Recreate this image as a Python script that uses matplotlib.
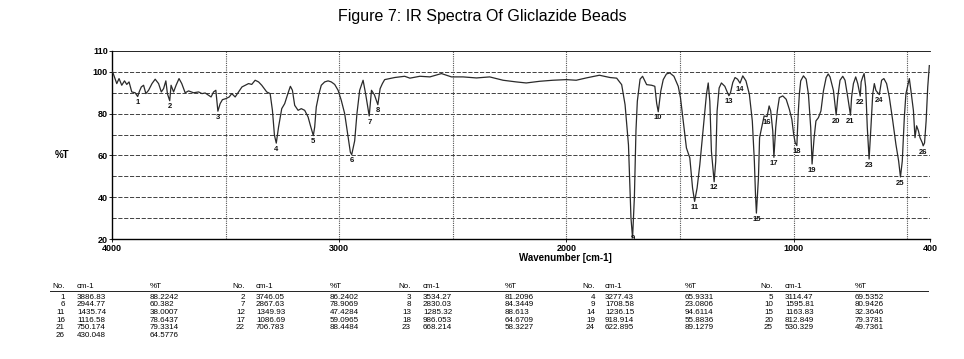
import numpy as np
import matplotlib
matplotlib.use("Agg")
from matplotlib import pyplot as plt

# spectrum (wavenumber cm-1, %T)
wavenumber = [4000, 3994, 3979, 3969, 3957, 3945, 3935, 3925, 3913, 3898, 3887, 3880,
              3871, 3861, 3851, 3839, 3824, 3810, 3795, 3783, 3773, 3763, 3756, 3746,
              3740, 3729, 3718, 3705, 3693, 3678, 3663, 3641, 3619, 3604, 3590, 3575,
              3564, 3553, 3543, 3534, 3524, 3514, 3499, 3484, 3473, 3458, 3443, 3428,
              3414, 3399, 3385, 3370, 3355, 3341, 3319, 3304, 3294, 3285, 3277, 3267,
              3253, 3240, 3226, 3215, 3206, 3196, 3181, 3167, 3152, 3137, 3127, 3114,
              3108, 3101, 3089, 3079, 3064, 3049, 3035, 3020, 3005, 2991, 2976, 2961,
              2951, 2945, 2932, 2922, 2910, 2895, 2884, 2868, 2858, 2845, 2830, 2820,
              2810, 2800, 2778, 2756, 2733, 2712, 2689, 2645, 2601, 2550, 2506, 2455,
              2396, 2338, 2279, 2221, 2177, 2118, 2060, 2001, 1957, 1913, 1855, 1808,
              1779, 1757, 1742, 1727, 1716, 1709, 1701, 1694, 1688, 1676, 1665, 1647,
              1625, 1611, 1603, 1596, 1585, 1574, 1560, 1545, 1527, 1508, 1498, 1486,
              1472, 1457, 1445, 1436, 1425, 1413, 1398, 1384, 1376, 1369, 1362, 1350,
              1343, 1337, 1328, 1318, 1303, 1293, 1285, 1278, 1268, 1258, 1247, 1236,
              1224, 1210, 1195, 1182, 1173, 1168, 1164, 1155, 1150, 1141, 1130, 1117,
              1108, 1101, 1092, 1087, 1079, 1072, 1063, 1048, 1033, 1019, 1008, 1000,
              993, 986, 980, 975, 969, 957, 945, 935, 925, 919, 910, 902,
              891, 880, 869, 857, 848, 840, 825, 813, 806, 796, 784, 774,
              762, 750, 745, 737, 727, 718, 707, 703, 696, 690, 683, 676,
              668, 660, 652, 645, 638, 623, 618, 613, 603, 591, 579, 564,
              550, 538, 530, 522, 513, 506, 498, 491, 484, 473, 466, 459,
              451, 444, 434, 430, 424, 417, 410, 403]
transmittance = [100.5, 99, 94.4, 96.8, 93.6, 95.7, 94, 95.2, 90.4, 90, 88.2, 90.5,
                 92.8, 93.6, 89.6, 91.2, 94.4, 96.5, 94.4, 90.4, 92, 95.7, 89.5, 86.2,
                 93.6, 90.4, 93.6, 96.8, 94.4, 90, 90.9, 90, 90.4, 89.6, 89.9, 88.8,
                 88, 90.4, 91.2, 81.2, 84.8, 86.7, 87.2, 88, 89.6, 88, 90.4, 92.8,
                 93.6, 94.4, 94, 96, 95.2, 93.6, 90.4, 89.6, 81.6, 69.6, 65.9, 73.6,
                 82.4, 84.8, 89.6, 93.1, 91.2, 84, 81.6, 82.4, 81.6, 78.4, 74.4, 69.5,
                 73.6, 83.2, 89.6, 93.6, 95.2, 95.7, 95.2, 94, 91.2, 86.4, 80, 68.8,
                 61.5, 60.4, 67, 80, 91.2, 96, 89.6, 78.9, 91.2, 89, 84.3, 92,
                 94.4, 96.3, 96.8, 97.3, 97.6, 97.9, 97, 97.9, 97.6, 99.2, 97.6, 97.6,
                 97.1, 97.6, 96, 95.2, 94.7, 95.5, 96, 96.3, 96, 97.1, 98.4, 97.3,
                 97, 93.9, 84.3, 65, 30, 20.5, 40, 72, 86, 96.5, 97.9, 93.9,
                 93.6, 93.1, 85, 80.9, 90.7, 96.3, 99, 99.5, 97.9, 93.1, 87.5, 76.4,
                 63.6, 58.8, 44.4, 38.0, 44.4, 55.6, 73.2, 89.1, 94.7, 85.9, 62, 47.4,
                 57.2, 81.2, 92.3, 94.7, 93.1, 90.5, 88.6, 90, 94.9, 97.3, 96.5, 94.6,
                 98.1, 95.7, 89.3, 76.5, 57.3, 41.3, 32.4, 49.3, 68.5, 73.3, 78.9, 78.6,
                 83.7, 81.3, 71.7, 59.1, 73.3, 81.3, 87.7, 88.5, 86.9, 82.1, 77.3, 70.1,
                 66, 64.7, 80, 89.3, 95.7, 98.1, 96.5, 89.3, 73.3, 55.9, 68.5, 76.5,
                 78.1, 81.3, 90.9, 97.3, 99, 97.6, 91.1, 79.4, 87.9, 96, 97.9, 96,
                 87.9, 79.3, 87.9, 94.4, 97.6, 94.4, 88.4, 95.2, 97.6, 99.2, 92.7, 73.4,
                 58.3, 73.4, 89.5, 94.4, 91.1, 89.1, 92.7, 96, 96.8, 94.4, 87.9, 76.6,
                 65.3, 57.3, 49.7, 57.3, 78.2, 89.5, 93.5, 96.8, 91.1, 81.5, 68.5, 74.2,
                 71.8, 68.5, 66.1, 64.6, 66, 76.6, 92.7, 103]

# peak table printed under the spectrum
peak_no = list(range(1, 27))
peak_cm = ["3886.83", "3746.05", "3534.27", "3277.43", "3114.47",
           "2944.77", "2867.63", "2830.03", "1708.58", "1595.81",
           "1435.74", "1349.93", "1285.32", "1236.15", "1163.83",
           "1116.58", "1086.69", "986.053", "918.914", "812.849",
           "750.174", "706.783", "668.214", "622.895", "530.329",
           "430.048"]
peak_t = ["88.2242", "86.2402", "81.2096", "65.9331", "69.5352",
          "60.382", "78.9069", "84.3449", "23.0806", "80.9426",
          "38.0007", "47.4284", "88.613", "94.6114", "32.3646",
          "78.6437", "59.0965", "64.6709", "55.8836", "79.3781",
          "79.3314", "88.4484", "58.3227", "89.1279", "49.7361",
          "64.5776"]

x_ticks = [4000, 3000, 2000, 1000, 400]
y_ticks = [20, 40, 60, 80, 100, 110]

W, H = 964, 359
fig = plt.figure(figsize=(W / 100, H / 100), dpi=100)
fnt = "Liberation Sans"

fig.text(0.5, 1 - 17 / H, "Figure 7: IR Spectra Of Gliclazide Beads",
         ha="center", va="center", fontsize=11.5, family=fnt)

ax = fig.add_axes([112 / W, 1 - 239 / H, (930 - 112) / W, (239 - 51) / H])
ax.set_xlim(4000, 400)
ax.set_ylim(20, 110)

for yv in range(30, 110, 10):
    ax.axhline(yv, color="#222222", lw=0.6, ls=(0, (5, 2)), zorder=1)
for xv in range(3500, 400, -500):
    ax.axvline(xv, color="#555555", lw=0.8, ls=(0, (1, 1)), zorder=1)

ax.plot(wavenumber, transmittance, color="#2a2a2a", lw=0.9, zorder=3)

# peak numbers under each minimum
for n, c, t in zip(peak_no, peak_cm, peak_t):
    ax.annotate(str(n), (float(c), float(t)), xytext=(0, -2), textcoords="offset points",
                ha="center", va="top", fontsize=5.5, fontweight="bold", family=fnt,
                color="#111111", zorder=4, annotation_clip=False)

ax.set_xticks(x_ticks)
ax.set_xticklabels([str(v) for v in x_ticks])
ax.set_yticks(y_ticks)
ax.set_yticklabels([str(v) for v in y_ticks])
ax.tick_params(length=2, width=0.6, labelsize=6.5)
ax.tick_params(axis="x", pad=1.5)
ax.tick_params(axis="y", pad=1.0)
for lab in ax.get_xticklabels() + ax.get_yticklabels():
    lab.set_fontweight("bold")
    lab.set_family(fnt)
for s in ["left", "bottom"]:
    ax.spines[s].set_linewidth(1.0)
ax.spines["top"].set_linewidth(0.6)
ax.spines["right"].set_visible(False)

fig.text(62 / W, 1 - 155 / H, "%T", ha="center", va="center",
         fontsize=7, fontweight="bold", family=fnt)
fig.text(565 / W, 1 - 258 / H, "Wavenumber [cm-1]", ha="center", va="center",
         fontsize=7, fontweight="bold", family=fnt)

# table of peaks
no_right = [65, 245, 411, 595, 773]
cm_left = [77, 256, 423, 605, 785]
t_left = [150, 330, 505, 685, 855]
hdr_y = 287
row0 = 297.3
row_step = 7.65
tsize = 5.8
for g in range(5):
    fig.text((no_right[g] - 13) / W, 1 - hdr_y / H, "No.", ha="left", va="center",
             fontsize=tsize, family=fnt)
    fig.text(cm_left[g] / W, 1 - hdr_y / H, "cm-1", ha="left", va="center",
             fontsize=tsize, family=fnt)
    fig.text(t_left[g] / W, 1 - hdr_y / H, "%T", ha="left", va="center",
             fontsize=tsize, family=fnt)
fig.add_artist(plt.Line2D([50 / W, 928 / W], [1 - 290.5 / H, 1 - 290.5 / H],
                          color="#222222", lw=0.7))
for i, (n, c, t) in enumerate(zip(peak_no, peak_cm, peak_t)):
    r, g = divmod(i, 5)
    y = 1 - (row0 + r * row_step) / H
    fig.text(no_right[g] / W, y, str(n), ha="right", va="center", fontsize=tsize, family=fnt)
    fig.text(cm_left[g] / W, y, c, ha="left", va="center", fontsize=tsize, family=fnt)
    fig.text(t_left[g] / W, y, t, ha="left", va="center", fontsize=tsize, family=fnt)

fig.savefig("out.png", dpi=100)
